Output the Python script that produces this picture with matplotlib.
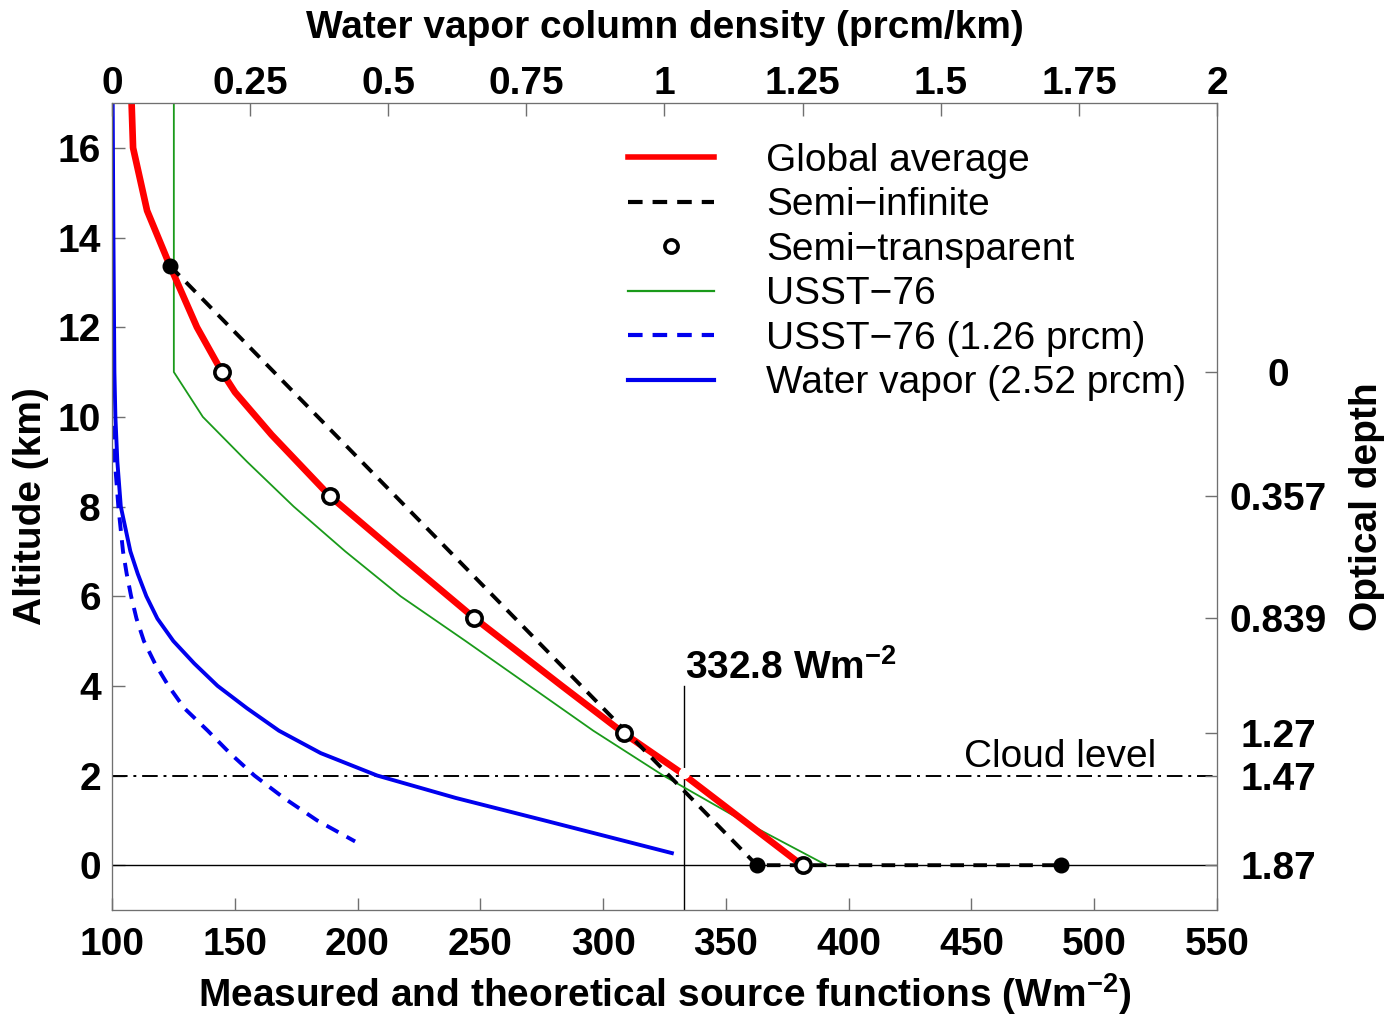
import matplotlib
matplotlib.use("Agg")
import matplotlib.pyplot as plt
from matplotlib.lines import Line2D

plt.rcParams["font.family"] = ["Liberation Sans", "DejaVu Sans"]
plt.rcParams["font.weight"] = "bold"
plt.rcParams["mathtext.fontset"] = "custom"
plt.rcParams["mathtext.rm"] = "Liberation Sans:bold"
plt.rcParams["mathtext.default"] = "rm"

# Global average (Wm-2 vs km)
ga_x = [108.0, 108.6, 114.3, 123.6, 134.6, 144.8, 150.1, 165.0, 188.8, 215.2, 247.4, 283.2, 308.5, 332.1, 381.0]
ga_y = [17.0, 16.0, 14.6, 13.37, 12.0, 11.0, 10.55, 9.6, 8.23, 7.0, 5.52, 4.0, 2.94, 2.05, 0.0]

# Semi-infinite
si_x = [123.6, 362.6, 486.4]
si_y = [13.37, 0.0, 0.0]

# Semi-transparent points
st_x = [144.8, 188.8, 247.4, 308.5, 381.4]
st_y = [11.0, 8.23, 5.52, 2.94, 0.0]

# USST-76
us_x = [125.2, 125.2, 137.0, 155.0, 174.0, 195.0, 217.5, 244.0, 270.0, 296.0, 324.5, 356.5, 391.0]
us_y = [17.0, 11.0, 10.0, 9.0, 8.0, 7.0, 6.0, 5.0, 4.0, 3.0, 2.0, 1.0, 0.0]

# USST-76 (1.26 prcm)
ud_x = [100.6, 101.2, 102.6, 104.5, 106.0, 107.8, 110.0, 113.0, 117.5, 123.0, 129.5, 139.0, 148.0, 158.0, 170.0, 183.5, 199.0]
ud_y = [9.8, 9.0, 8.0, 7.0, 6.5, 6.0, 5.5, 5.0, 4.5, 4.0, 3.5, 3.0, 2.5, 2.0, 1.5, 1.0, 0.53]

# Water vapor (2.52 prcm)
wv_x = [100.3, 100.6, 101.0, 101.4, 102.2, 103.6, 107.5, 110.5, 114.0, 118.5, 125.0, 133.5, 143.0, 155.0, 168.0, 185.0, 208.0, 240.0, 276.0, 328.0]
wv_y = [17.0, 14.0, 11.0, 10.0, 9.0, 8.0, 7.0, 6.5, 6.0, 5.5, 5.0, 4.5, 4.0, 3.5, 3.0, 2.5, 2.0, 1.5, 1.0, 0.27]

od_alt = [11.0, 8.23, 5.52, 2.94, 2.0, 0.0]
od_labels = ["0", "0.357", "0.839", "1.27", "1.47", "1.87"]

top_ticks = [0, 0.25, 0.5, 0.75, 1, 1.25, 1.5, 1.75, 2]
top_labels = ["0", "0.25", "0.5", "0.75", "1", "1.25", "1.5", "1.75", "2"]

surface = 332.8
cloud = 2.0

fig = plt.figure(figsize=(13.89, 10.16), dpi=100)
ax = fig.add_axes([0.0806, 0.1043, 0.7956, 0.7943])
fs = 28
grey = "#707070"
dash = (0, (3.5, 2.4))

ax.plot([100, 550], [0, 0], color="black", lw=1.0)
ax.plot([100, 550], [cloud, cloud], color="black", lw=1.4, ls=(0, (8, 3, 1.5, 3)))
ax.plot([surface, surface], [-1, 4], color="black", lw=1.0)

ax.plot(us_x, us_y, color="#1a9a1a", lw=1.3)
ax.plot(ga_x, ga_y, color="red", lw=4.8)
ax.plot(si_x, si_y, color="black", lw=2.8, ls=dash)
ax.plot(wv_x, wv_y, color="#0000ee", lw=2.8)
ax.plot(ud_x, ud_y, color="#0000ee", lw=2.8, ls=dash)
ax.plot([surface], [cloud + 0.05], "o", color="white", ms=7, zorder=5)
ax.plot(si_x, si_y, "o", color="black", ms=10.5, ls="none", zorder=6)
ax.plot(st_x, st_y, "o", mfc="white", mec="black", mew=2.6, ms=11, ls="none", zorder=7)

ax.text(333.3, 4.16, r"332.8 Wm$^{-2}$", fontsize=fs, fontweight="bold", ha="left", va="baseline")
ax.text(486, 2.2, "Cloud level", fontsize=fs, fontweight="normal", ha="center", va="baseline")

ax.set_xlim(100, 550)
ax.set_ylim(-1, 17)
ax.set_xticks(range(100, 551, 50))
ax.set_yticks(range(0, 17, 2))
ax.tick_params(direction="in", length=9, width=1, color=grey, labelsize=fs)
ax.tick_params(axis="x", pad=12)
ax.tick_params(axis="y", pad=8)
for s in ax.spines.values():
    s.set_color(grey)
ax.set_xlabel(r"Measured and theoretical source functions (Wm$^{-2}$)", fontsize=fs, fontweight="bold", labelpad=6)
ax.set_ylabel("Altitude (km)", fontsize=fs, fontweight="bold", labelpad=6)

axt = ax.twiny()
axt.set_xlim(0, 2)
axt.set_xticks(top_ticks)
axt.set_xticklabels(top_labels)
axt.tick_params(direction="in", length=9, width=1, color=grey, labelsize=fs, pad=1)
axt.set_xlabel("Water vapor column density (prcm/km)", fontsize=fs, fontweight="bold", labelpad=20)

axr = ax.twinx()
axr.set_ylim(-1, 17)
axr.set_yticks(od_alt)
axr.set_yticklabels(od_labels)
axr.tick_params(direction="in", length=9, width=1, color=grey, labelsize=fs, pad=44)
for lbl in axr.get_yticklabels():
    lbl.set_horizontalalignment("center")
axr.set_ylabel("Optical depth", fontsize=fs, fontweight="bold", labelpad=16)
for a in (axt, axr):
    for s in a.spines.values():
        s.set_color(grey)

handles = [
    Line2D([], [], color="red", lw=4.0),
    Line2D([], [], color="black", lw=3.0, ls=dash),
    Line2D([], [], marker="o", mfc="white", mec="black", mew=2.6, ms=9.5, ls="none"),
    Line2D([], [], color="#1a9a1a", lw=1.6),
    Line2D([], [], color="#0000ee", lw=3.0, ls=dash),
    Line2D([], [], color="#0000ee", lw=3.0),
]
labels = ["Global average", "Semi\u2212infinite", "Semi\u2212transparent",
          "USST\u221276", "USST\u221276 (1.26 prcm)", "Water vapor (2.52 prcm)"]
axr.legend(handles, labels, loc="upper left", bbox_to_anchor=(0.467, 0.951),
           frameon=False, prop={"size": fs, "weight": "normal"},
           handlelength=2.2, handletextpad=1.35, labelspacing=0.22,
           borderpad=0, borderaxespad=0)

fig.savefig("out.png", dpi=100)
